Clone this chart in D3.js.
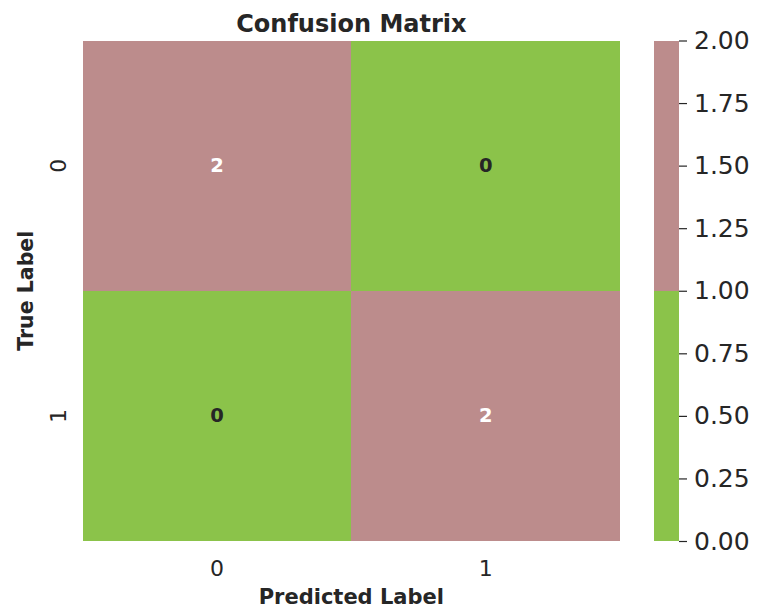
<!DOCTYPE html>
<html><head><meta charset="utf-8">
<script src="https://cdn.jsdelivr.net/npm/d3@7"></script>
<style>body{margin:0;background:#fff}svg{display:block}text{font-family:"DejaVu Sans",sans-serif}</style>
</head><body><svg id="c" width="757" height="614"></svg>
<script>
const trueLabels = ["0", "1"];
const predLabels = ["0", "1"];
const matrix = [[2, 0], [0, 2]];
const cbTicks = [0, 0.25, 0.5, 0.75, 1.0, 1.25, 1.5, 1.75, 2.0];
const palette = ["#8bc34a", "#bc8c8c"];

const svg = d3.select("#c");
const L = 82.7, R = 620, T = 40.5, B = 541;
const x = d3.scaleBand().domain(predLabels).range([L, R]);
const y = d3.scaleBand().domain(trueLabels).range([T, B]);
const color = d3.scaleThreshold().domain([1]).range(palette);
const textCol = v => v > 1 ? "#ffffff" : "#262626";

const cells = [];
matrix.forEach((row, i) => row.forEach((v, j) => cells.push({t: trueLabels[i], p: predLabels[j], v})));

svg.selectAll("rect.cell").data(cells).join("rect")
  .attr("x", d => x(d.p)).attr("y", d => y(d.t))
  .attr("width", x.bandwidth()).attr("height", y.bandwidth())
  .attr("fill", d => color(d.v)).attr("shape-rendering", "crispEdges");

svg.selectAll("text.ann").data(cells).join("text")
  .attr("x", d => x(d.p) + x.bandwidth() / 2).attr("y", d => y(d.t) + y.bandwidth() / 2)
  .attr("text-anchor", "middle").attr("dominant-baseline", "central")
  .attr("font-weight", "bold").attr("font-size", 19.5)
  .attr("fill", d => textCol(d.v)).text(d => d.v);

// x axis
const xa = svg.append("g").attr("transform", `translate(0,${B})`)
  .call(d3.axisBottom(x).tickSize(0));
xa.select(".domain").remove();
xa.selectAll("text").attr("font-size", 22).attr("fill", "#262626").attr("font-family", "DejaVu Sans")
  .attr("dy", 0).attr("y", 35);

// y axis
const ya = svg.append("g").attr("transform", `translate(${L},0)`)
  .call(d3.axisLeft(y).tickSize(0).tickPadding(0));
ya.select(".domain").remove();
ya.selectAll("text").attr("font-size", 22).attr("fill", "#262626").attr("font-family", "DejaVu Sans")
  .attr("text-anchor", "middle").attr("dy", 0).attr("x", 0)
  .attr("transform", `translate(${66 - L},0) rotate(-90)`);

// titles
svg.append("text").attr("x", (L + R) / 2).attr("y", 32).attr("text-anchor", "middle")
  .attr("font-weight", "bold").attr("font-size", 24).attr("fill", "#262626").text("Confusion Matrix");
svg.append("text").attr("x", (L + R) / 2).attr("y", 604).attr("text-anchor", "middle")
  .attr("font-weight", "bold").attr("font-size", 21).attr("fill", "#262626").text("Predicted Label");
svg.append("text").attr("transform", `translate(33,${(T + B) / 2}) rotate(-90)`).attr("text-anchor", "middle")
  .attr("font-weight", "bold").attr("font-size", 20.5).attr("fill", "#262626").text("True Label");

// colorbar
const cbX = 654, cbW = 25;
const cy = d3.scaleLinear().domain([0, 2]).range([B, T]);
const segs = [{a: 0, b: 1}, {a: 1, b: 2}];
svg.selectAll("rect.cb").data(segs).join("rect")
  .attr("x", cbX).attr("width", cbW)
  .attr("y", d => cy(d.b)).attr("height", d => cy(d.a) - cy(d.b))
  .attr("fill", d => color(d.a + 0.5)).attr("shape-rendering", "crispEdges");
const ca = svg.append("g").attr("transform", `translate(${cbX + cbW},0)`)
  .call(d3.axisRight(cy).tickValues(cbTicks).tickFormat(d3.format(".2f")).tickSize(8).tickPadding(7));
ca.select(".domain").remove();
ca.selectAll("line").attr("stroke", "#262626").attr("stroke-width", 1.2);
ca.selectAll("text").attr("font-size", 25).attr("fill", "#262626").attr("font-family", "DejaVu Sans");
</script></body></html>
